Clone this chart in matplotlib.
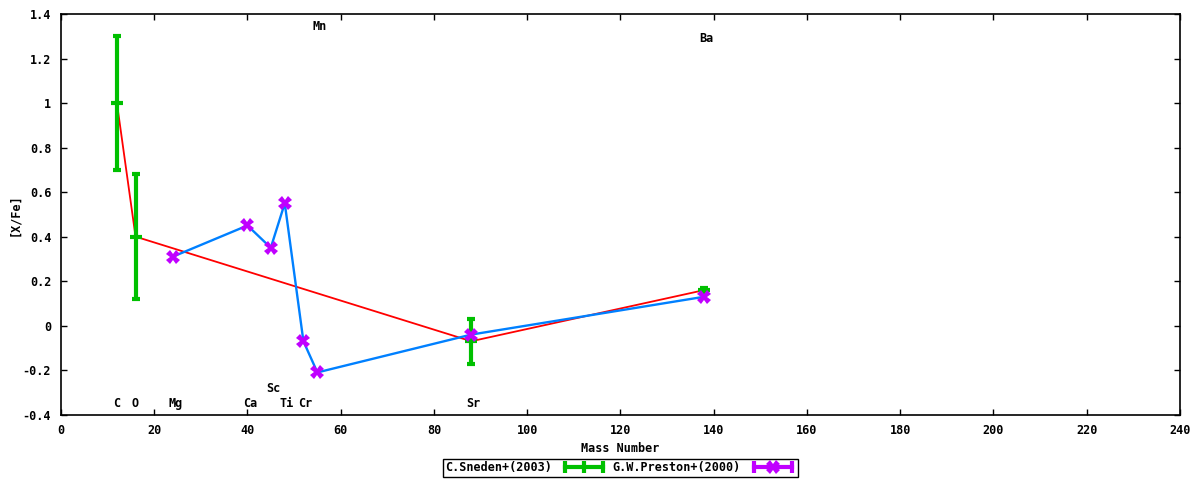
import matplotlib
matplotlib.use("Agg")
import matplotlib.pyplot as plt
from matplotlib.lines import Line2D
from matplotlib.legend_handler import HandlerLine2D, HandlerTuple

# Sneden+ (2003)
sneden_mass = [12, 16, 88, 138]
sneden_val = [1.0, 0.40, -0.07, 0.16]
sneden_err = [0.30, 0.28, 0.10, 0.01]

# Preston+ (2000)
preston_mass = [24, 40, 45, 48, 52, 55, 88, 138]
preston_val = [0.31, 0.45, 0.35, 0.55, -0.07, -0.21, -0.04, 0.13]

# element labels
label_text = ["C", "O", "Mg", "Ca", "Sc", "Ti", "Cr", "Mn", "Sr", "Ba"]
label_x = [12, 16, 24.5, 40.5, 45.5, 48.5, 52.5, 55.5, 88.5, 138.5]
label_y = [-0.35, -0.35, -0.35, -0.35, -0.28, -0.35, -0.35, 1.345, -0.35, 1.29]

xticks = list(range(0, 241, 20))
yticks = [-0.4, -0.2, 0, 0.2, 0.4, 0.6, 0.8, 1.0, 1.2, 1.4]
ytick_labels = ["-0.4", "-0.2", "0", "0.2", "0.4", "0.6", "0.8", "1", "1.2", "1.4"]

GREEN = "#00c000"
RED = "#ff0000"
BLUE = "#0080ff"
MAG = "#c000ff"

plt.rcParams["font.family"] = ["DejaVu Sans Mono"]
plt.rcParams["font.weight"] = "bold"
plt.rcParams["font.size"] = 8.5

fig = plt.figure(figsize=(12, 4.8), dpi=100)
ax = fig.add_axes([0.0508, 0.136, 0.9325, 0.8348])

ax.plot(sneden_mass, sneden_val, color=RED, lw=1.3, zorder=2)
ax.errorbar(sneden_mass, sneden_val, yerr=sneden_err, fmt="none", ecolor=GREEN,
            elinewidth=3, capsize=3.2, capthick=3, zorder=3)
ax.plot(sneden_mass, sneden_val, linestyle="none", marker="_", markersize=9,
        markeredgewidth=3, color=GREEN, zorder=3)
ax.plot(preston_mass, preston_val, color=BLUE, lw=1.7, zorder=4)
ax.plot(preston_mass, preston_val, linestyle="none", marker="X", markersize=10,
        color=MAG, markeredgewidth=0, zorder=5)

for t, x, y in zip(label_text, label_x, label_y):
    ax.text(x, y, t, ha="center", va="center", fontsize=8.5, fontweight="bold")

ax.set_xlim(0, 240)
ax.set_ylim(-0.4, 1.4)
ax.set_xticks(xticks)
ax.set_xticklabels([str(v) for v in xticks])
ax.set_yticks(yticks)
ax.set_yticklabels(ytick_labels)
ax.tick_params(direction="in", top=True, right=True, length=4, width=1, pad=7)
for s in ax.spines.values():
    s.set_linewidth(1.2)

ax.set_xlabel("Mass Number", fontsize=8.5, fontweight="bold", labelpad=3)
ax.set_ylabel("[X/Fe]", fontsize=8.5, fontweight="bold", labelpad=1)

# legend
g_line = Line2D([], [], color=GREEN, lw=3, marker="|", markersize=9, markeredgewidth=3)
m_line = Line2D([], [], color=MAG, lw=3, marker="|", markersize=9, markeredgewidth=3)
m_x = Line2D([], [], color=MAG, linestyle="none", marker="X", markersize=10, markeredgewidth=0)
leg = fig.legend([g_line, (m_line, m_x)], ["C.Sneden+(2003)", "G.W.Preston+(2000)"],
                 loc="center", bbox_to_anchor=(0.517, 0.025), ncol=2,
                 markerfirst=False, frameon=True, fancybox=False, framealpha=1,
                 edgecolor="black", borderpad=0.2, handlelength=3.8, columnspacing=0.5,
                 handletextpad=0.8, borderaxespad=0,
                 handler_map={g_line: HandlerLine2D(numpoints=3),
                              m_line: HandlerLine2D(numpoints=2),
                              m_x: HandlerLine2D(numpoints=1),
                              tuple: HandlerTuple(ndivide=1, pad=0)},
                 prop={"family": "DejaVu Sans Mono", "weight": "bold", "size": 8.5})
leg.get_frame().set_linewidth(1)

fig.savefig("out.png", dpi=100)
